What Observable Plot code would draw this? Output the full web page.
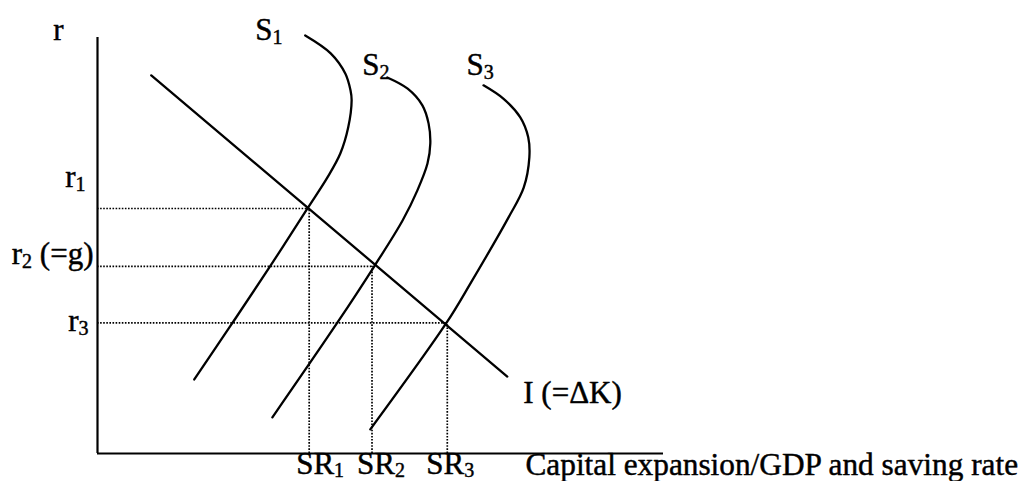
<!DOCTYPE html>
<html>
<head>
<meta charset="utf-8">
<script src="https://cdn.jsdelivr.net/npm/d3@7"></script>
<script src="https://cdn.jsdelivr.net/npm/@observablehq/plot@0.6"></script>
<style>
  html, body { margin: 0; padding: 0; background: #fff; }
  #chart svg { display: block; }
</style>
</head>
<body>
<div id="chart"></div>
<script>
// ---- data (arbitrary diagram units, 0-100 on both axes) ----
const yTitle = "r";
const xTitle = "Capital expansion/GDP and saving rate";
const curveLabels = ["S1", "S2", "S3"];
const rLabels = ["r1", "r2 (=g)", "r3"];
const srLabels = ["SR1", "SR2", "SR3"];
const iLabel = "I (=ΔK)";

// equilibrium interest rates and saving rates
const rValues = [58.9, 45.0, 31.4];
const srValues = [37.4, 48.5, 61.8];

// investment schedule I (=ΔK)
const iX = [9.5, 72.4];
const iY = [90.9, 18.5];

// saving schedules
const s1X = [36.7, 41.2, 43.8, 44.7, 44.9, 44.3, 42.9, 40.6, 37.1, 30.6, 23.9, 17.1];
const s1Y = [100.5, 96.2, 91.3, 87.3, 84.9, 78.4, 72.1, 66.3, 58.9, 45.2, 31.5, 17.8];
const s2X = [51.2, 54.8, 57.4, 58.5, 58.8, 58.3, 56.5, 53.9, 48.9, 42.4, 30.9];
const s2Y = [90.4, 87.7, 83.7, 79.3, 74.5, 69.7, 63.2, 56.0, 45.0, 31.5, 8.7];
const s3X = [68.2, 71.7, 74.7, 76.1, 76.3, 75.3, 72.6, 65.9, 61.7, 48.2];
const s3Y = [88.5, 85.3, 80.8, 76.0, 71.2, 63.9, 56.7, 40.9, 31.5, 5.8];

// ---- tables built from the arrays ----
const toPts = (xs, ys) => xs.map((x, i) => ({x, y: ys[i]}));
const iLine = toPts(iX, iY);
const curves = [toPts(s1X, s1Y), toPts(s2X, s2Y), toPts(s3X, s3Y)];
const eq = rValues.map((r, i) => ({r, sr: srValues[i], rl: rLabels[i], sl: srLabels[i]}));

const FS = 31;
const font = "Liberation Serif, Times New Roman, serif";
const lineStyle = {stroke: "black", strokeWidth: 2.3};
const axisStyle = {stroke: "black", strokeWidth: 2.2};
const dotted = {stroke: "black", strokeWidth: 1.7, strokeDasharray: "1.6,1.5"};

const txt = (data, opts) => Plot.text(data, {fontSize: FS, fill: "black", stroke: "black", strokeWidth: 0.45, ...opts});

// label offsets (px) relative to anchored data points
const sOffsets = [[-50, -5], [-25, -12], [-17, -20]];
const rOffsets = [[-12, -31], [-4, -12], [-9, -2]];
const srOffsets = [[-13, 11], [-15, 11], [-21, 11]];

const marks = [
  // axes
  Plot.ruleX([0], {...axisStyle}),
  Plot.ruleY([0], {...axisStyle}),
  // dotted guides
  Plot.ruleY(eq, {y: "r", x1: () => 0, x2: "sr", ...dotted}),
  Plot.ruleX(eq, {x: "sr", y1: () => 0, y2: "r", ...dotted}),
  // investment line
  Plot.line(iLine, {x: "x", y: "y", ...lineStyle}),
  // saving curves
  ...curves.map(c => Plot.line(c, {x: "x", y: "y", curve: "catmull-rom", ...lineStyle})),
  // curve labels
  ...curves.map((c, i) => txt([c[0]], {x: "x", y: "y", text: () => curveLabels[i], textAnchor: "start", dx: sOffsets[i][0], dy: sOffsets[i][1]})),
  // r labels
  ...eq.map((d, i) => txt([d], {x: () => 0, y: "r", text: "rl", textAnchor: "end", dx: rOffsets[i][0], dy: rOffsets[i][1]})),
  // SR labels
  ...eq.map((d, i) => txt([d], {x: "sr", y: () => 0, text: "sl", textAnchor: "start", dx: srOffsets[i][0], dy: srOffsets[i][1]})),
  // I label
  txt([iLine[iLine.length - 1]], {x: "x", y: "y", text: () => iLabel, textAnchor: "start", dx: 16, dy: 17}),
  // axis titles
  txt([{x: 0, y: 100}], {x: "x", y: "y", text: () => yTitle, textAnchor: "end", dx: -34, dy: -7}),
  txt([{x: 100, y: 0}], {x: "x", y: "y", text: () => xTitle, textAnchor: "start", fontSize: 31.3, dx: -138, dy: 11})
];

const chart = Plot.plot({
  width: 1025,
  height: 481,
  marginLeft: 97,
  marginRight: 362,
  marginTop: 37,
  marginBottom: 28,
  x: {domain: [0, 100], axis: null},
  y: {domain: [0, 100], axis: null},
  style: {fontFamily: font, fontSize: FS + "px", background: "white", overflow: "visible", color: "black"},
  marks
});

// subscripts: turn "S1", "SR2", "r2 (=g)" etc. into base + subscript tspans
const NS = "http://www.w3.org/2000/svg";
chart.querySelectorAll("text").forEach(t => {
  const s = t.textContent;
  const m = s.match(/^([A-Za-z]+)(\d)(.*)$/);
  if (!m) return;
  const shift = m[1] === "SR" ? 2.5 : 4;
  t.textContent = "";
  const a = document.createElementNS(NS, "tspan");
  a.textContent = m[1];
  t.appendChild(a);
  const b = document.createElementNS(NS, "tspan");
  b.textContent = m[2];
  b.setAttribute("font-size", "20px");
  b.setAttribute("dy", String(shift));
  t.appendChild(b);
  if (m[3]) {
    const c = document.createElementNS(NS, "tspan");
    c.textContent = m[3];
    c.setAttribute("dy", String(-shift));
    t.appendChild(c);
  }
});

document.getElementById("chart").appendChild(chart);
</script>
</body>
</html>
